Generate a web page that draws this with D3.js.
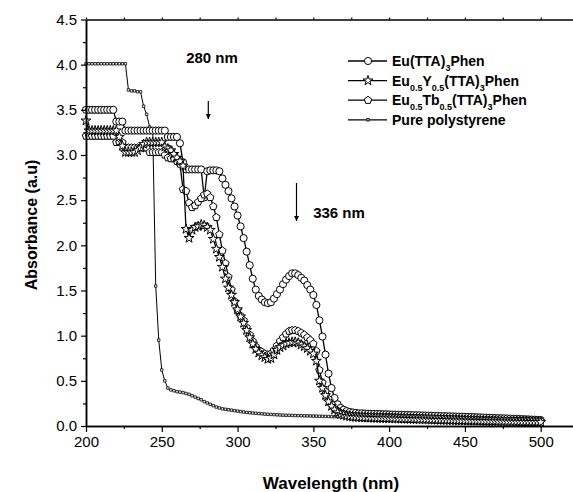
<!DOCTYPE html>
<html>
<head>
<meta charset="utf-8">
<script src="https://cdn.jsdelivr.net/npm/d3@7"></script>
<style>
    body { margin: 0; background: #fff; }
    svg { display: block; font-family: "Liberation Sans", Arial, sans-serif; }
</style>
</head>
<body>
<div id="chart-area"></div>
<script>
/*
    UV-Vis absorbance spectra, Eu complexes in polystyrene
*/

// wavelength grid (nm), one reading every 2 nm
var wavelengths = d3.range(200, 501, 2);

// Eu(TTA)3Phen
var euPhen = [
    3.50,3.50,3.50,3.50,3.50,3.50,3.50,3.50,3.50,3.50,   // 200
    3.37,3.37,3.37,3.27,3.27,3.27,3.27,3.27,3.27,3.27,   // 220
    3.27,3.27,3.27,3.27,3.27,3.27,3.27,3.20,3.20,3.20,   // 240
    3.20,3.13,2.92,2.84,2.84,2.84,2.84,2.84,2.84,2.53,   // 260
    2.82,2.83,2.83,2.83,2.82,2.74,2.67,2.60,2.52,2.43,   // 280
    2.33,2.21,2.08,1.93,1.78,1.63,1.51,1.44,1.40,1.37,   // 300
    1.36,1.37,1.41,1.46,1.51,1.57,1.62,1.66,1.69,1.69,   // 320
    1.67,1.64,1.61,1.56,1.51,1.45,1.34,1.17,0.99,0.79,   // 340
    0.58,0.42,0.31,0.24,0.20,0.18,0.165,0.155,0.15,0.145,   // 360
    0.14,0.14,0.138,0.136,0.135,0.134,0.133,0.132,0.13,0.13,   // 380
    0.128,0.127,0.126,0.125,0.124,0.123,0.122,0.121,0.12,0.119,   // 400
    0.118,0.117,0.116,0.115,0.114,0.113,0.112,0.11,0.109,0.108,   // 420
    0.107,0.106,0.105,0.104,0.103,0.102,0.1,0.099,0.098,0.097,   // 440
    0.095,0.094,0.092,0.091,0.09,0.088,0.087,0.086,0.085,0.083,   // 460
    0.082,0.08,0.079,0.078,0.076,0.075,0.073,0.071,0.07,0.068,   // 480
    0.066                                                 // 500
];

// Eu0.5Y0.5(TTA)3Phen
var euYPhen = [
    3.38,3.27,3.27,3.27,3.27,3.27,3.27,3.27,3.27,3.27,
    3.27,3.20,3.10,3.03,3.03,3.03,3.03,3.05,3.08,3.12,
    3.14,3.14,3.14,3.14,3.14,3.14,3.09,3.07,3.05,3.01,
    2.97,2.93,2.88,2.18,2.08,2.17,2.20,2.21,2.23,2.22,
    2.20,2.17,2.07,1.96,1.87,1.76,1.63,1.53,1.45,1.37,
    1.29,1.21,1.14,1.06,0.98,0.91,0.85,0.81,0.78,0.76,
    0.74,0.75,0.79,0.84,0.87,0.89,0.91,0.92,0.93,0.93,
    0.92,0.90,0.88,0.86,0.83,0.80,0.72,0.50,0.42,0.34,
    0.27,0.22,0.18,0.15,0.13,0.12,0.11,0.105,0.1,0.097,
    0.095,0.093,0.091,0.09,0.089,0.088,0.087,0.086,0.085,0.084,
    0.083,0.082,0.081,0.08,0.079,0.078,0.077,0.076,0.075,0.074,
    0.073,0.072,0.071,0.07,0.069,0.068,0.067,0.066,0.065,0.064,
    0.063,0.062,0.061,0.06,0.06,0.059,0.058,0.057,0.056,0.056,
    0.055,0.054,0.053,0.053,0.052,0.051,0.05,0.05,0.049,0.048,
    0.048,0.047,0.046,0.046,0.045,0.045,0.044,0.043,0.043,0.042,
    0.042
];

// Eu0.5Tb0.5(TTA)3Phen
var euTbPhen = [
    3.21,3.21,3.21,3.21,3.21,3.21,3.21,3.21,3.21,3.21,
    3.14,3.14,3.14,3.08,3.08,3.08,3.08,3.08,3.08,3.08,
    3.08,3.03,3.03,3.03,3.03,3.03,3.00,2.97,2.96,2.96,
    2.93,2.90,2.62,2.60,2.47,2.42,2.44,2.48,2.52,2.56,
    2.57,2.53,2.43,2.31,2.12,1.94,1.80,1.65,1.51,1.38,
    1.28,1.22,1.17,1.09,1.01,0.94,0.88,0.84,0.82,0.80,
    0.79,0.80,0.84,0.89,0.94,0.98,1.02,1.05,1.06,1.06,
    1.05,1.03,1.01,0.98,0.95,0.91,0.83,0.62,0.48,0.38,
    0.30,0.24,0.19,0.165,0.145,0.135,0.125,0.12,0.115,0.112,
    0.11,0.109,0.108,0.107,0.106,0.105,0.104,0.103,0.102,0.101,
    0.1,0.099,0.098,0.097,0.096,0.095,0.094,0.093,0.092,0.091,
    0.09,0.089,0.088,0.087,0.086,0.085,0.084,0.083,0.082,0.081,
    0.08,0.079,0.078,0.077,0.076,0.075,0.074,0.073,0.072,0.071,
    0.07,0.069,0.068,0.067,0.066,0.065,0.064,0.063,0.062,0.061,
    0.06,0.06,0.059,0.058,0.058,0.057,0.057,0.056,0.056,0.055,
    0.055
];

// Pure polystyrene
var polystyrene = [
    4.01,4.01,4.01,4.01,4.01,4.01,4.01,4.01,4.01,4.01,
    4.01,4.01,4.01,4.01,3.72,3.71,3.71,3.70,3.70,3.54,
    3.45,3.31,3.28,1.55,0.95,0.62,0.50,0.42,0.40,0.39,
    0.38,0.375,0.37,0.36,0.35,0.335,0.32,0.305,0.29,0.27,
    0.255,0.24,0.225,0.21,0.20,0.19,0.185,0.18,0.175,0.17,
    0.165,0.16,0.155,0.15,0.147,0.144,0.141,0.138,0.135,0.132,
    0.13,0.128,0.126,0.124,0.122,0.12,0.119,0.118,0.117,0.116,
    0.115,0.114,0.113,0.112,0.111,0.11,0.109,0.108,0.107,0.106,
    0.105,0.104,0.103,0.102,0.1,0.099,0.098,0.097,0.096,0.095,
    0.094,0.093,0.092,0.091,0.09,0.089,0.088,0.087,0.086,0.085,
    0.084,0.083,0.082,0.081,0.08,0.079,0.078,0.077,0.076,0.075,
    0.074,0.073,0.072,0.071,0.07,0.069,0.068,0.067,0.066,0.065,
    0.064,0.063,0.062,0.061,0.06,0.06,0.059,0.058,0.057,0.057,
    0.056,0.055,0.055,0.054,0.054,0.053,0.053,0.052,0.052,0.051,
    0.051,0.05,0.05,0.05,0.049,0.049,0.048,0.048,0.048,0.047,
    0.047
];

var xTicks = [200, 250, 300, 350, 400, 450, 500];
var xMinorTicks = [225, 275, 325, 375, 425, 475];
var yTicks = [0.0, 0.5, 1.0, 1.5, 2.0, 2.5, 3.0, 3.5, 4.0, 4.5];

var seriesNames = ["Eu(TTA)3Phen", "Eu0.5Y0.5(TTA)3Phen", "Eu0.5Tb0.5(TTA)3Phen", "Pure polystyrene"];

// legend labels split into [text, isSubscript] pieces
var legendParts = [
    [["Eu(TTA)", 0], ["3", 1], ["Phen", 0]],
    [["Eu", 0], ["0.5", 1], ["Y", 0], ["0.5", 1], ["(TTA)", 0], ["3", 1], ["Phen", 0]],
    [["Eu", 0], ["0.5", 1], ["Tb", 0], ["0.5", 1], ["(TTA)", 0], ["3", 1], ["Phen", 0]],
    [["Pure polystyrene", 0]]
];

function pentagon(r) {
    var pts = [];
    for (var k = 0; k < 5; k++) {
        var a = -Math.PI / 2 + k * 2 * Math.PI / 5;
        pts.push([r * Math.cos(a), r * Math.sin(a)]);
    }
    return "M" + pts.map(function(p){ return p[0].toFixed(2) + "," + p[1].toFixed(2); }).join("L") + "Z";
}

var markers = [
    d3.symbol().type(d3.symbolCircle).size(40)(),
    d3.symbol().type(d3.symbolStar).size(30)(),
    pentagon(3.9),
    d3.symbol().type(d3.symbolSquare).size(6)()
];

var series = [euPhen, euYPhen, euTbPhen, polystyrene];

function drawChart(){
    var width = 573, height = 492;

    var svg = d3.select("#chart-area")
        .append("svg")
        .attr("width", width)
        .attr("height", height);

    var x = d3.scaleLinear()
        .domain([200, 525])
        .range([86, 578.6]);

    var y = d3.scaleLinear()
        .domain([0, 4.5])
        .range([426, 19.5]);

    // Series: lines first, then open markers on top
    var line = d3.line()
        .x(function(d, i){ return x(wavelengths[i]); })
        .y(function(d){ return y(d); });

    var order = [3, 0, 2, 1];
    order.forEach(function(s){
        var g = svg.append("g").attr("class", "series-" + s);
        g.append("path")
            .attr("d", line(series[s]))
            .attr("fill", "none")
            .attr("stroke", "#000")
            .attr("stroke-width", s == 3 ? 1 : 1.3);
        g.selectAll("path.mk")
            .data(series[s])
            .enter().append("path")
            .attr("class", "mk")
            .attr("d", markers[s])
            .attr("transform", function(d, i){ return "translate(" + x(wavelengths[i]) + "," + y(d) + ")"; })
            .attr("fill", "#fff")
            .attr("stroke", "#000")
            .attr("stroke-width", s == 3 ? 0.8 : 1);
    });

    // Axes
    svg.append("g")
        .attr("transform", "translate(0," + y(0) + ")")
        .call(d3.axisBottom(x).tickValues(xTicks).tickSize(6).tickSizeOuter(0).tickPadding(4));
    svg.append("g")
        .attr("transform", "translate(0," + y(0) + ")")
        .call(d3.axisBottom(x).tickValues(xMinorTicks).tickSize(3).tickSizeOuter(0).tickFormat(""));

    svg.append("g")
        .attr("transform", "translate(" + x(200) + ",0)")
        .call(d3.axisLeft(y).tickValues(yTicks).tickFormat(d3.format(".1f")).tickSize(5).tickSizeOuter(0).tickPadding(4));
    svg.append("g")
        .attr("transform", "translate(" + x(200) + ",0)")
        .call(d3.axisLeft(y).tickValues(yTicks.slice(0, -1).map(function(v){ return v + 0.25; })).tickSize(3).tickSizeOuter(0).tickFormat(""));

    // top frame line with small ticks
    svg.append("g")
        .attr("transform", "translate(0," + y(4.5) + ")")
        .call(d3.axisTop(x).tickValues(xTicks.concat(xMinorTicks)).tickSize(2).tickSizeOuter(0).tickFormat(""));

    svg.selectAll(".domain").attr("stroke-width", 1.5);
    svg.selectAll(".tick line").attr("stroke-width", 1.2);
    svg.selectAll(".tick text")
        .attr("font-family", "Liberation Sans, Arial, sans-serif")
        .attr("font-size", "15px")
        .attr("fill", "#000");

    // Axis titles
    svg.append("text")
        .attr("x", 331)
        .attr("y", 489)
        .attr("text-anchor", "middle")
        .attr("font-size", "17px")
        .attr("font-weight", "bold")
        .text("Wavelength (nm)");

    svg.append("text")
        .attr("transform", "translate(37,225) rotate(-90)")
        .attr("text-anchor", "middle")
        .attr("font-size", "16px")
        .attr("font-weight", "bold")
        .text("Absorbance (a.u)");

    // Annotations with arrows
    svg.append("defs").append("marker")
        .attr("id", "arrowhead")
        .attr("viewBox", "0 0 10 10")
        .attr("refX", 10)
        .attr("refY", 5)
        .attr("markerWidth", 5)
        .attr("markerHeight", 6)
        .attr("markerUnits", "userSpaceOnUse")
        .attr("orient", "auto")
        .append("path")
        .attr("d", "M0,0 L10,5 L0,10 Z")
        .attr("fill", "#000");

    var notes = [
        { label: "280 nm", tx: 212, ty: 63, ax: 208.3, ay1: 101, ay2: 119 },
        { label: "336 nm", tx: 339, ty: 218, ax: 296.5, ay1: 183, ay2: 221 }
    ];
    notes.forEach(function(n){
        svg.append("text")
            .attr("x", n.tx)
            .attr("y", n.ty)
            .attr("text-anchor", "middle")
            .attr("font-size", "15px")
            .attr("font-weight", "bold")
            .text(n.label);
        svg.append("line")
            .attr("x1", n.ax).attr("x2", n.ax)
            .attr("y1", n.ay1).attr("y2", n.ay2)
            .attr("stroke", "#000")
            .attr("stroke-width", 1.2)
            .attr("marker-end", "url(#arrowhead)");
    });

    // Legend
    var legend = svg.append("g")
        .attr("transform", "translate(348,61)");

    seriesNames.forEach(function(name, i){
        var row = legend.append("g")
            .attr("transform", "translate(0," + (i * 19.6) + ")");
        row.append("line")
            .attr("x1", 0).attr("x2", 39)
            .attr("y1", 0).attr("y2", 0)
            .attr("stroke", "#000")
            .attr("stroke-width", 1.3);
        row.append("path")
            .attr("d", markers[i])
            .attr("transform", "translate(20,0)")
            .attr("fill", "#fff")
            .attr("stroke", "#000");
        var txt = row.append("text")
            .attr("x", 44)
            .attr("y", 5)
            .attr("font-size", "14px")
            .attr("font-weight", "bold")
            .attr("aria-label", name);
        var sub = false;
        legendParts[i].forEach(function(p){
            var t = txt.append("tspan").text(p[0]);
            if (p[1] && !sub) { t.attr("dy", 5).attr("font-size", "9px"); sub = true; }
            else if (!p[1] && sub) { t.attr("dy", -5); sub = false; }
            else if (p[1]) { t.attr("font-size", "9px"); }
        });
    });
}

drawChart();
</script>
</body>
</html>
